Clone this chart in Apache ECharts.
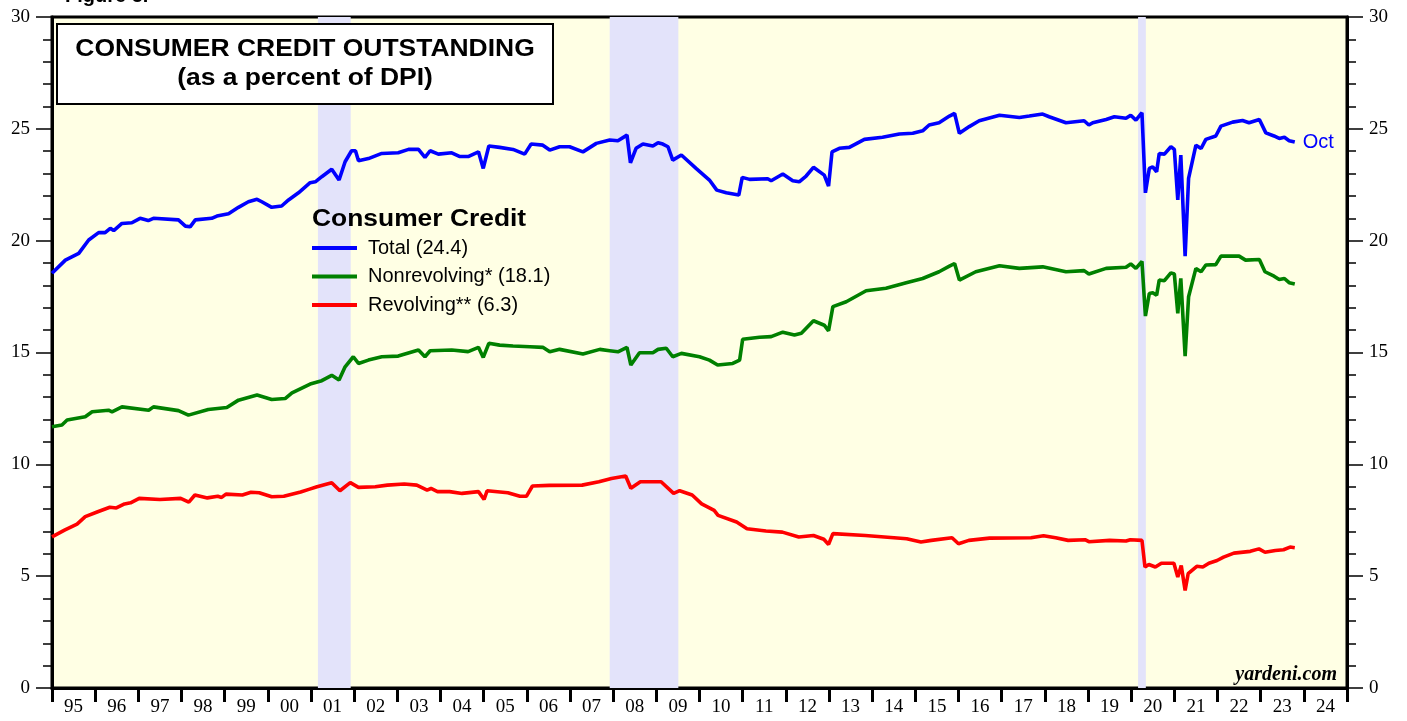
<!DOCTYPE html>
<html>
<head>
<meta charset="utf-8">
<script src="https://cdn.jsdelivr.net/npm/echarts@6/dist/echarts.min.js"></script>
<style>
html,body{margin:0;padding:0;background:#fff;}
#chart{width:1407px;height:721px;}
</style>
</head>
<body>
<div id="chart"></div>
<script>
// ---- Data ----
const yearLabels = ['95','96','97','98','99','00','01','02','03','04','05','06','07','08','09','10','11','12','13','14','15','16','17','18','19','20','21','22','23','24'];

const recessionStarts = [2001.16, 2007.92, 2020.16];
const recessionEnds   = [2001.92, 2009.51, 2020.34];

const totalDates = [1995.0,1995.31,1995.62,1995.85,1996.08,1996.23,1996.35,1996.43,1996.62,1996.85,1997.04,1997.23,1997.35,1997.93,1998.09,1998.2,1998.32,1998.7,1998.82,1999.09,1999.32,1999.55,1999.75,1999.86,2000.09,2000.32,2000.48,2000.71,2000.98,2001.1,2001.25,2001.48,2001.65,2001.79,2001.94,2002.03,2002.1,2002.33,2002.64,2003.02,2003.26,2003.49,2003.64,2003.76,2003.95,2004.26,2004.45,2004.64,2004.88,2004.99,2005.12,2005.37,2005.68,2005.95,2006.1,2006.37,2006.53,2006.76,2006.99,2007.3,2007.61,2007.92,2008.11,2008.32,2008.4,2008.53,2008.69,2008.92,2009.04,2009.15,2009.27,2009.38,2009.58,2009.92,2010.23,2010.4,2010.62,2010.91,2010.99,2011.16,2011.58,2011.66,2011.93,2012.16,2012.31,2012.47,2012.64,2012.89,2012.99,2013.07,2013.24,2013.47,2013.82,2014.24,2014.63,2014.94,2015.17,2015.32,2015.55,2015.79,2015.91,2016.02,2016.25,2016.48,2016.95,2017.41,2017.64,2017.95,2018.1,2018.49,2018.91,2019.02,2019.11,2019.42,2019.61,2019.88,2019.99,2020.11,2020.25,2020.33,2020.42,2020.5,2020.59,2020.65,2020.77,2020.92,2021.0,2021.08,2021.15,2021.25,2021.33,2021.5,2021.62,2021.73,2021.96,2022.08,2022.35,2022.58,2022.73,2022.97,2023.12,2023.31,2023.43,2023.55,2023.66,2023.79];
const totalValues = [18.54,19.13,19.43,20.03,20.36,20.36,20.55,20.45,20.77,20.8,21.0,20.9,21.0,20.93,20.65,20.62,20.93,21.0,21.1,21.2,21.49,21.74,21.85,21.74,21.49,21.55,21.82,22.14,22.59,22.63,22.86,23.19,22.71,23.53,24.02,24.02,23.57,23.67,23.9,23.93,24.08,24.08,23.72,24.02,23.87,23.93,23.76,23.76,23.97,23.23,24.23,24.17,24.08,23.87,24.32,24.27,24.05,24.2,24.2,23.97,24.35,24.5,24.47,24.72,23.48,24.13,24.32,24.23,24.38,24.32,24.2,23.6,23.83,23.23,22.71,22.26,22.14,22.04,22.83,22.74,22.77,22.68,22.98,22.68,22.63,22.89,23.28,22.93,22.44,23.97,24.13,24.17,24.53,24.62,24.77,24.8,24.91,25.17,25.27,25.57,25.69,24.8,25.1,25.36,25.61,25.51,25.57,25.66,25.54,25.27,25.36,25.17,25.27,25.42,25.54,25.47,25.61,25.39,25.72,22.14,23.23,23.3,23.08,23.9,23.87,24.2,24.08,21.82,23.83,19.31,22.78,24.27,24.12,24.53,24.68,25.12,25.3,25.37,25.27,25.42,24.82,24.68,24.57,24.62,24.47,24.41];

const nonrevDates = [1995.0,1995.23,1995.35,1995.77,1995.93,1996.31,1996.39,1996.62,1997.24,1997.35,1997.93,1998.16,1998.62,1999.05,1999.32,1999.75,2000.09,2000.4,2000.56,2000.98,2001.25,2001.48,2001.65,2001.79,2001.98,2002.1,2002.33,2002.64,2003.02,2003.49,2003.64,2003.76,2004.26,2004.64,2004.88,2004.99,2005.12,2005.37,2005.68,2006.07,2006.37,2006.53,2006.76,2007.3,2007.69,2007.92,2008.11,2008.32,2008.41,2008.61,2008.92,2009.04,2009.23,2009.38,2009.58,2010.0,2010.23,2010.42,2010.77,2010.93,2011.0,2011.39,2011.66,2011.93,2012.2,2012.36,2012.64,2012.89,2012.99,2013.09,2013.4,2013.86,2014.32,2014.79,2015.17,2015.55,2015.79,2015.91,2016.02,2016.4,2016.95,2017.41,2017.95,2018.49,2018.91,2019.02,2019.42,2019.88,2019.99,2020.11,2020.25,2020.33,2020.42,2020.5,2020.59,2020.65,2020.77,2020.92,2021.0,2021.08,2021.15,2021.25,2021.33,2021.5,2021.62,2021.73,2021.96,2022.08,2022.5,2022.65,2022.97,2023.1,2023.31,2023.43,2023.55,2023.66,2023.79];
const nonrevValues = [11.68,11.76,11.98,12.13,12.35,12.42,12.35,12.57,12.42,12.57,12.4,12.2,12.45,12.54,12.87,13.1,12.9,12.94,13.2,13.59,13.74,13.98,13.77,14.36,14.81,14.51,14.66,14.81,14.84,15.11,14.81,15.08,15.11,15.04,15.23,14.78,15.41,15.33,15.29,15.26,15.23,15.03,15.14,14.93,15.14,15.08,15.03,15.23,14.44,14.99,14.99,15.14,15.19,14.81,14.96,14.81,14.66,14.44,14.51,14.66,15.59,15.68,15.71,15.91,15.78,15.86,16.42,16.22,15.97,17.05,17.27,17.76,17.87,18.12,18.31,18.61,18.86,18.98,18.24,18.61,18.88,18.76,18.83,18.61,18.66,18.51,18.76,18.81,18.96,18.76,19.07,16.63,17.64,17.67,17.56,18.24,18.21,18.56,18.51,16.75,18.31,14.84,17.49,18.76,18.61,18.91,18.93,19.31,19.31,19.13,19.16,18.61,18.41,18.26,18.31,18.12,18.06];

const revDates = [1995.0,1995.29,1995.58,1995.77,1996.06,1996.34,1996.49,1996.68,1996.82,1997.02,1997.5,1997.98,1998.17,1998.31,1998.6,1998.84,1998.93,1999.03,1999.41,1999.61,1999.8,2000.09,2000.37,2000.76,2000.95,2001.14,2001.48,2001.67,2001.91,2002.1,2002.49,2002.77,2003.16,2003.45,2003.69,2003.78,2003.93,2004.21,2004.5,2004.88,2005.01,2005.08,2005.56,2005.84,2005.99,2006.13,2006.52,2007.28,2007.67,2007.96,2008.29,2008.41,2008.63,2009.11,2009.4,2009.54,2009.83,2010.05,2010.34,2010.43,2010.86,2011.1,2011.54,2011.92,2012.3,2012.64,2012.88,2012.99,2013.09,2013.84,2014.8,2015.13,2015.37,2015.85,2016.0,2016.24,2016.72,2017.68,2017.97,2018.25,2018.54,2018.93,2019.02,2019.5,2019.88,2019.98,2020.25,2020.32,2020.41,2020.56,2020.7,2020.99,2021.08,2021.16,2021.25,2021.32,2021.52,2021.66,2021.8,2021.99,2022.14,2022.38,2022.76,2022.96,2023.1,2023.34,2023.53,2023.68,2023.79];
const revValues = [6.76,7.06,7.33,7.66,7.88,8.08,8.05,8.23,8.28,8.48,8.43,8.48,8.31,8.63,8.5,8.57,8.52,8.67,8.63,8.75,8.73,8.55,8.57,8.76,8.88,9.0,9.18,8.82,9.18,8.97,9.0,9.07,9.12,9.07,8.85,8.92,8.78,8.78,8.7,8.78,8.43,8.82,8.73,8.57,8.57,9.03,9.06,9.07,9.22,9.37,9.48,8.93,9.22,9.22,8.7,8.82,8.63,8.23,7.94,7.72,7.42,7.12,7.02,6.97,6.75,6.82,6.65,6.42,6.9,6.82,6.67,6.53,6.6,6.72,6.45,6.6,6.7,6.72,6.81,6.72,6.6,6.63,6.54,6.6,6.57,6.63,6.6,5.41,5.52,5.41,5.58,5.58,4.96,5.48,4.36,5.11,5.44,5.41,5.58,5.7,5.85,6.03,6.11,6.22,6.07,6.15,6.18,6.3,6.27];

const seriesNames = ['Total (24.4)', 'Nonrevolving* (18.1)', 'Revolving** (6.3)'];

// ---- Build ----
function pairs(xs, ys){ return xs.map((x,i)=>[x, ys[i]]); }
const serifFont = '"Liberation Serif", "Times New Roman", serif';
const sansFont = '"Liberation Sans", Arial, sans-serif';

const chart = echarts.init(document.getElementById('chart'), null, {renderer:'canvas'});

const lineCommon = {
  type:'line', xAxisIndex:0, yAxisIndex:0, symbol:'none', showSymbol:false, z:5
};

const option = {
  animation:false,
  backgroundColor:'#ffffff',
  grid:{left:52, right:60, top:17, bottom:33, show:true, backgroundColor:'#ffffe4', borderColor:'#000', borderWidth:3},
  xAxis:[
    {type:'value', min:1995, max:2025, interval:1, position:'bottom',
     axisLine:{show:true, onZero:false, lineStyle:{color:'#000', width:3}},
     axisTick:{show:true, length:14, inside:false, lineStyle:{color:'#000', width:3}},
     axisLabel:{show:false}, splitLine:{show:false}},
    {type:'category', data:yearLabels, position:'bottom', boundaryGap:true,
     axisLine:{show:false}, axisTick:{show:false}, splitLine:{show:false},
     axisLabel:{show:true, margin:10, color:'#000', fontFamily:serifFont, fontSize:19, interval:0}}
  ],
  yAxis:[
    {type:'value', min:0, max:30, interval:5, position:'left',
     axisLine:{show:true, onZero:false, lineStyle:{color:'#000', width:3}},
     axisTick:{show:true, length:16, lineStyle:{color:'#000', width:1.5}},
     minorTick:{show:true, splitNumber:5, length:9, lineStyle:{color:'#000', width:1.5}},
     axisLabel:{margin:22, color:'#000', fontFamily:serifFont, fontSize:19},
     splitLine:{show:false}},
    {type:'value', min:0, max:30, interval:5, position:'right',
     axisLine:{show:true, onZero:false, lineStyle:{color:'#000', width:3}},
     axisTick:{show:true, length:16, lineStyle:{color:'#000', width:1.5}},
     minorTick:{show:true, splitNumber:5, length:9, lineStyle:{color:'#000', width:1.5}},
     axisLabel:{margin:22, color:'#000', fontFamily:serifFont, fontSize:19},
     splitLine:{show:false}}
  ],
  legend:{
    show:true, orient:'vertical', left:312, top:238, padding:0, itemGap:8.5,
    itemWidth:45, itemHeight:4, icon:'rect',
    textStyle:{color:'#000', fontFamily:sansFont, fontSize:20, lineHeight:20, padding:[0,0,0,6]},
    data:seriesNames
  },
  series:[
    {type:'line', name:'recessions', xAxisIndex:0, yAxisIndex:0, data:[], z:1, silent:true,
     markArea:{silent:true, itemStyle:{color:'#e3e3fa'},
       data: recessionStarts.map((s,i)=>[{xAxis:s},{xAxis:recessionEnds[i]}])}},
    Object.assign({}, lineCommon, {name:seriesNames[0], data:pairs(totalDates,totalValues),
      itemStyle:{color:'#0000ff'}, lineStyle:{width:3.6, color:'#0000ff'},
      endLabel:{show:true, formatter:'Oct', color:'#0000ff', fontFamily:sansFont, fontSize:20, distance:8}}),
    Object.assign({}, lineCommon, {name:seriesNames[1], data:pairs(nonrevDates,nonrevValues),
      itemStyle:{color:'#008000'}, lineStyle:{width:3.6, color:'#008000'}}),
    Object.assign({}, lineCommon, {name:seriesNames[2], data:pairs(revDates,revValues),
      itemStyle:{color:'#ff0000'}, lineStyle:{width:3.6, color:'#ff0000'}})
  ],
  graphic:[
    {type:'text', left:65, top:-14, z:20,
     style:{text:'Figure 5.', fill:'#000', font:'bold 20px ' + sansFont}},
    {type:'rect', z:20, shape:{x:57, y:24, width:496, height:80},
     style:{fill:'#fff', stroke:'#000', lineWidth:2}},
    {type:'text', z:21, x:305, y:50, scaleX:1.15,
     style:{text:'CONSUMER CREDIT OUTSTANDING', fill:'#000', font:'bold 23px ' + sansFont, textAlign:'center', textVerticalAlign:'middle'}},
    {type:'text', z:21, x:305, y:79, scaleX:1.15,
     style:{text:'(as a percent of DPI)', fill:'#000', font:'bold 23px ' + sansFont, textAlign:'center', textVerticalAlign:'middle'}},
    {type:'text', z:21, x:312, y:219, scaleX:1.1,
     style:{text:'Consumer Credit', fill:'#000', font:'bold 24px ' + sansFont, textAlign:'left', textVerticalAlign:'middle'}},
    {type:'text', z:21, x:1337, y:675,
     style:{text:'yardeni.com', fill:'#000', font:'italic bold 20px ' + serifFont, textAlign:'right', textVerticalAlign:'middle'}}
  ]
};
chart.setOption(option);
</script>
</body>
</html>
